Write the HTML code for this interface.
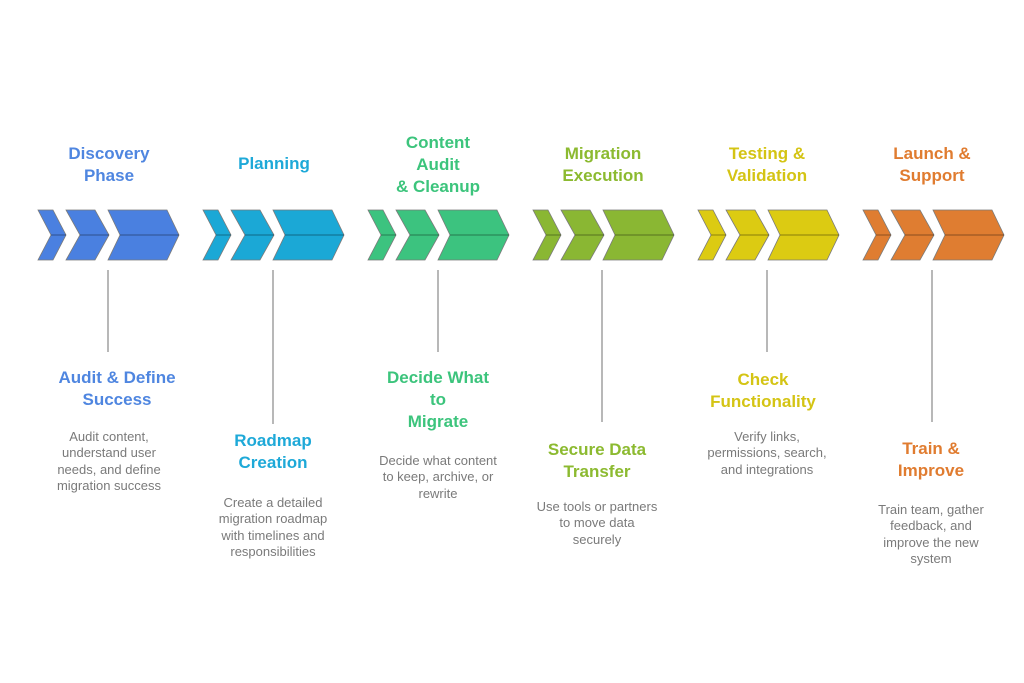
<!DOCTYPE html>
<html><head><meta charset="utf-8"><style>
body{margin:0;width:1024px;height:683px;background:#fff;position:relative;overflow:hidden;font-family:"Liberation Sans",sans-serif}
.t{position:absolute;width:200px;text-align:center;font-weight:bold;font-size:17px;line-height:22px}
.d{position:absolute;width:180px;text-align:center;font-size:13px;line-height:16.3px;color:#7a7a7a}
svg{position:absolute;left:0;top:0}
</style></head><body>
<svg width="1024" height="683">
<defs>
<g id="ch">
<polygon points="0,0 15,0 28,25 15,50 0,50 13,25"/>
<polygon points="28,0 57,0 71,25 57,50 28,50 42,25"/>
<polygon points="70,0 129,0 141,25 129,50 70,50 82,25"/>
</g>
<g id="ml" stroke="rgba(0,0,0,0.3)" stroke-width="1.2">
<line x1="13" y1="25" x2="28" y2="25"/><line x1="42" y1="25" x2="71" y2="25"/><line x1="82" y1="25" x2="141" y2="25"/>
</g>
</defs>
<g stroke="#7a7a7a" stroke-width="0.8">
<use href="#ch" x="38" y="210" fill="#4a80e0"/>
<use href="#ch" x="203" y="210" fill="#1ba8d6"/>
<use href="#ch" x="368" y="210" fill="#3cc37f"/>
<use href="#ch" x="533" y="210" fill="#8ab733"/>
<use href="#ch" x="698" y="210" fill="#dccb12"/>
<use href="#ch" x="863" y="210" fill="#df7d31"/>
</g>
<use href="#ml" x="38" y="210"/><use href="#ml" x="203" y="210"/><use href="#ml" x="368" y="210"/>
<use href="#ml" x="533" y="210"/><use href="#ml" x="698" y="210"/><use href="#ml" x="863" y="210"/>
<g stroke="#a0a0a0" stroke-width="1.5">
<line x1="108" y1="270" x2="108" y2="352"/>
<line x1="273" y1="270" x2="273" y2="424"/>
<line x1="438" y1="270" x2="438" y2="352"/>
<line x1="602" y1="270" x2="602" y2="422"/>
<line x1="767" y1="270" x2="767" y2="352"/>
<line x1="932" y1="270" x2="932" y2="422"/>
</g>
</svg>

<div class="t" style="left:9px;top:143px;color:#4f86e0">Discovery<br>Phase</div>
<div class="t" style="left:174px;top:153px;color:#1ea9d8">Planning</div>
<div class="t" style="left:338px;top:132px;color:#3cc47c">Content<br>Audit<br>&amp; Cleanup</div>
<div class="t" style="left:503px;top:143px;color:#8cba30">Migration<br>Execution</div>
<div class="t" style="left:667px;top:143px;color:#d4c414">Testing &amp;<br>Validation</div>
<div class="t" style="left:832px;top:143px;color:#e07c30">Launch &amp;<br>Support</div>

<div class="t" style="left:17px;top:367px;color:#4f86e0">Audit &amp; Define<br>Success</div>
<div class="d" style="left:19px;top:429px">Audit content,<br>understand user<br>needs, and define<br>migration success</div>

<div class="t" style="left:173px;top:430px;color:#1ea9d8">Roadmap<br>Creation</div>
<div class="d" style="left:183px;top:495px">Create a detailed<br>migration roadmap<br>with timelines and<br>responsibilities</div>

<div class="t" style="left:338px;top:367px;color:#3cc47c">Decide What<br>to<br>Migrate</div>
<div class="d" style="left:348px;top:453px">Decide what content<br>to keep, archive, or<br>rewrite</div>

<div class="t" style="left:497px;top:439px;color:#8cba30">Secure Data<br>Transfer</div>
<div class="d" style="left:507px;top:499px">Use tools or partners<br>to move data<br>securely</div>

<div class="t" style="left:663px;top:369px;color:#d4c414">Check<br>Functionality</div>
<div class="d" style="left:677px;top:429px">Verify links,<br>permissions, search,<br>and integrations</div>

<div class="t" style="left:831px;top:438px;color:#e07c30">Train &amp;<br>Improve</div>
<div class="d" style="left:841px;top:502px">Train team, gather<br>feedback, and<br>improve the new<br>system</div>
</body></html>
